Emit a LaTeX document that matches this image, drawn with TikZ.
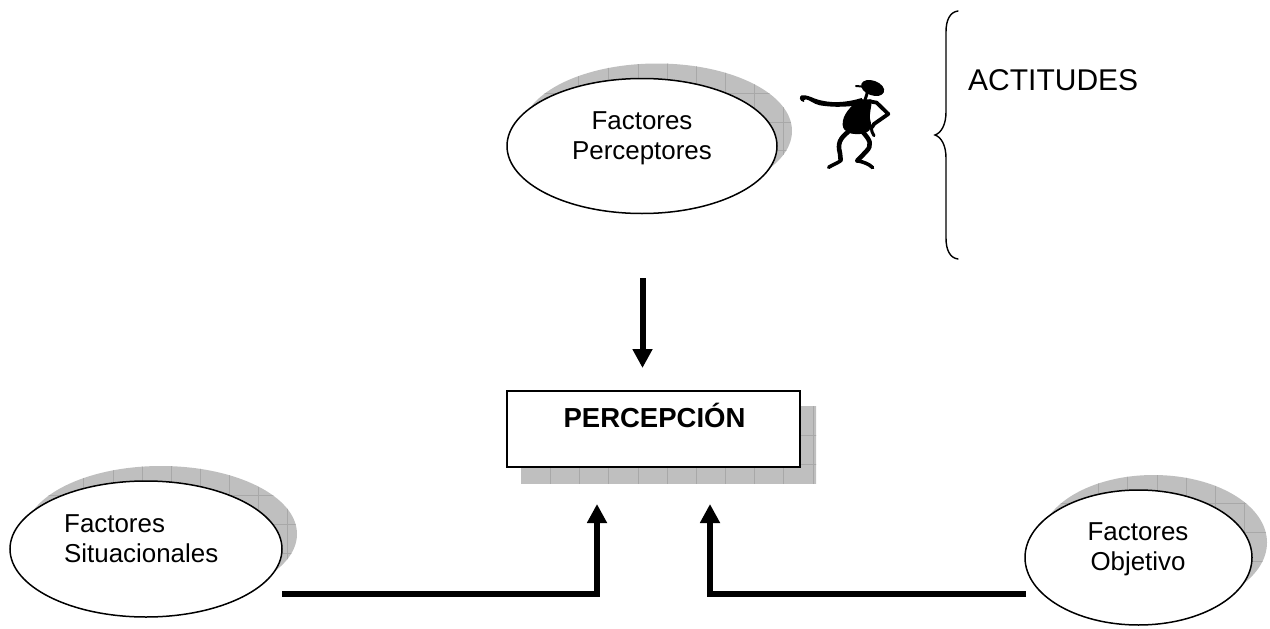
\documentclass[tikz,border=0pt]{standalone}
\usepackage{fontspec}
\setmainfont{Liberation Sans}
\usetikzlibrary{arrows.meta,shapes.geometric,decorations.pathreplacing}
\definecolor{shadowgray}{gray}{0.75}
\definecolor{shadowline}{gray}{0.66}
\tikzset{
  outline/.style={draw=black,line width=1.5pt,fill=white},
  bubble/.style={ellipse,outline,inner sep=0pt},
  bodytext/.style={inner sep=0pt,font=\fontsize{25.9}{30}\selectfont},
  flowline/.style={line width=6pt,line cap=butt,line join=miter,-{Triangle[length=19pt,width=19pt]}},
  figfill/.style={fill=black,draw=none},
  figline/.style={draw=black,line cap=round,line join=round}
}
% shape path, list of grid x, list of grid y
\newcommand{\shadowshape}[3]{%
  \begin{scope}
    \clip #1;
    \fill[shadowgray] (0,0) rectangle (1270,629);
    \foreach \gx in {#2} {\draw[shadowline,line width=0.7pt] (\gx,0) -- (\gx,629);}
    \foreach \gy in {#3} {\draw[shadowline,line width=0.7pt] (0,\gy) -- (1270,\gy);}
  \end{scope}}
\begin{document}
\begin{tikzpicture}[x=1pt,y=-1pt]
\useasboundingbox (0,0) rectangle (1270,629);
% shadows
\shadowshape{(657,131) ellipse [x radius=135,y radius=67.5]}{578,608,638,667,696,725,754,783}{93,122,150}
\shadowshape{(161,534) ellipse [x radius=136,y radius=68]}{83,113,142,171,200,229,258,287}{495,524,553}
\shadowshape{(1153.5,542.5) ellipse [x radius=113.5,y radius=67.5]}{1098,1127,1157,1186,1215,1244}{503,532,561}
\shadowshape{(521,406) rectangle (816,483)}{550,579,608,638,667,696,725,754,783,813}{435,464}
% ellipses
\node[bubble,minimum width=270pt,minimum height=135pt] (perc) at (642,146) {};
\node[bubble,minimum width=272pt,minimum height=136pt] (sit) at (146,549) {};
\node[bubble,minimum width=227pt,minimum height=135pt] (obj) at (1138.5,557.5) {};
\node[outline,rectangle,minimum width=293pt,minimum height=76pt,inner sep=0pt] (box) at (653.5,429) {};
% texts
\node[bodytext,align=center] (tperc) at (642,138.5) {Factores\\Perceptores};
\node[bodytext,align=left,anchor=west] (tsit) at (64,538.8) {Factores\\Situacionales};
\node[bodytext,align=center] (tobj) at (1138,549.5) {Factores\\Objetivo};
\node[inner sep=0pt,anchor=base,font=\fontsize{27.5}{30}\selectfont\bfseries] (tbox) at (654.5,427) {PERCEPCIÓN};
\node[inner sep=0pt,anchor=base west,font=\fontsize{30}{34}\selectfont] (tact) at (968,90) {ACTITUDES};
% connectors
\coordinate (a1) at (642.5,278);
\coordinate (a2) at (642.5,368);
\coordinate (l1) at (282,594);
\coordinate (l2) at (597,594);
\coordinate (l3) at (597,504);
\coordinate (r1) at (1026,594);
\coordinate (r2) at (710,594);
\coordinate (r3) at (710,504);
\draw[flowline] (a1) -- (a2);
\draw[flowline] (l1) -- (l2) -- (l3);
\draw[flowline] (r1) -- (r2) -- (r3);
% brace
\coordinate (bt) at (958,11);
\coordinate (bm) at (935,135);
\coordinate (bb) at (958,259);
\draw[line width=1.4pt,line cap=round]
  (bt) .. controls (950,12) and (946,20) .. (946,32)
  -- (946,112) .. controls (946,125) and (941,133) .. (bm)
  .. controls (941,137) and (946,145) .. (946,158)
  -- (946,238) .. controls (946,250) and (950,258) .. (bb);
% little figure (zoom coordinates: 780+x/3, 80+y/3)
\begin{scope}[shift={(780,80)},x=0.3333pt,y=-0.3333pt]
  % head and cap brim
  \fill[rotate around={-20:(278,24)}] (278,24) ellipse [x radius=36,y radius=22];
  \draw[figline,line width=2pt] (228,18) -- (262,21);
  \draw[figline,line width=3pt] (262,38) -- (255,60);
  % body
  \path[figfill] (240,58) .. controls (212,78) and (186,105) .. (188,135)
     .. controls (190,158) and (215,164) .. (240,162)
     .. controls (264,160) and (278,150) .. (272,125)
     .. controls (264,100) and (278,80) .. (274,58) -- cycle;
  % pointing arm
  \path[figfill] (245,54) .. controls (200,68) and (150,72) .. (105,56)
     .. controls (90,50) and (78,44) .. (65,46)
     .. controls (56,50) and (58,64) .. (72,66)
     .. controls (74,60) and (70,58) .. (78,58)
     .. controls (90,60) and (100,72) .. (120,76)
     .. controls (170,84) and (215,80) .. (255,72) -- cycle;
  % other arm
  \draw[figline,line width=3.8pt] (268,64) -- (290,68) -- (325,102) -- (282,132) -- (276,142);
  \draw[figline,line width=3pt] (274,144) -- (276,155) -- (282,167);
  % legs
  \draw[figline,line width=4.6pt] (205,155) .. controls (180,175) and (172,190) .. (180,220) -- (182,240);
  \draw[figline,line width=3.6pt] (182,242) .. controls (172,250) and (158,254) .. (146,262);
  \draw[figline,line width=4.6pt] (250,158) .. controls (270,180) and (278,195) .. (258,215) -- (232,242);
  \draw[figline,line width=3.6pt] (232,242) .. controls (250,246) and (268,252) .. (278,263);
\end{scope}
\end{tikzpicture}
\end{document}
